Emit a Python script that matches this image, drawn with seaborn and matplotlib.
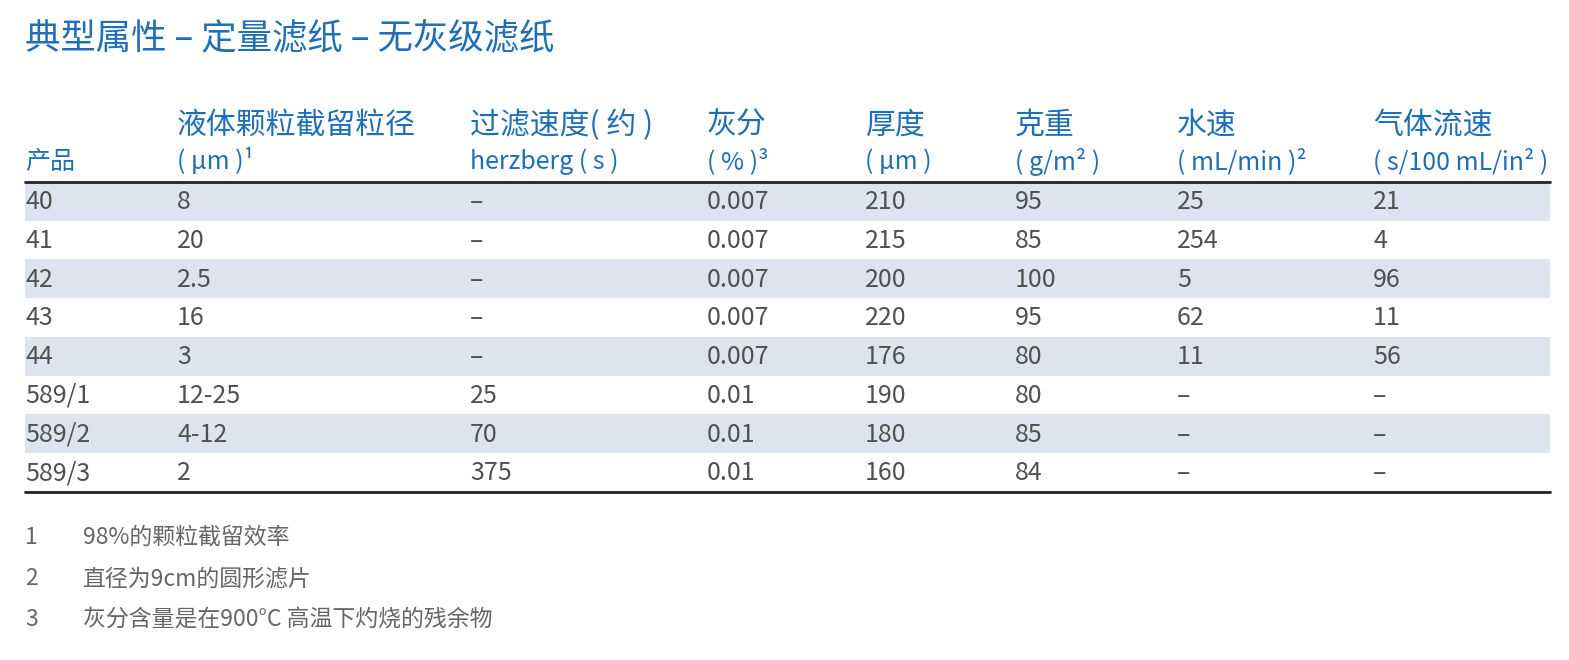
import matplotlib.pyplot as plt
import seaborn as sns

sns.set_theme(style="white")
plt.rcParams['font.family'] = ['Noto Sans CJK SC', 'DejaVu Sans']

title = "典型属性 – 定量滤纸 – 无灰级滤纸"
headers_top = ["", "液体颗粒截留粒径", "过滤速度( 约 )", "灰分", "厚度", "克重", "水速", "气体流速"]
headers_bot = ["产品", "( μm )¹", "herzberg ( s )", "( % )³", "( μm )", "( g/m² )", "( mL/min )²", "( s/100 mL/in² )"]
products = ["40", "41", "42", "43", "44", "589/1", "589/2", "589/3"]
retention = ["8", "20", "2.5", "16", "3", "12-25", "4-12", "2"]
herzberg = ["–", "–", "–", "–", "–", "25", "70", "375"]
ash = ["0.007", "0.007", "0.007", "0.007", "0.007", "0.01", "0.01", "0.01"]
thickness = ["210", "215", "200", "220", "176", "190", "180", "160"]
weight = ["95", "85", "100", "95", "80", "80", "85", "84"]
water = ["25", "254", "5", "62", "11", "–", "–", "–"]
air = ["21", "4", "96", "11", "56", "–", "–", "–"]
footnotes = ["98%的颗粒截留效率", "直径为9cm的圆形滤片", "灰分含量是在900°C 高温下灼烧的残余物"]

columns = [products, retention, herzberg, ash, thickness, weight, water, air]
col_x = [25, 177, 470, 707, 865, 1015, 1177, 1373]
blue = "#1f6fb8"
grey = "#505050"

fig = plt.figure(figsize=(15.69, 6.6), dpi=100)
ax = fig.add_axes([0, 0, 1, 1])
ax.set_xlim(0, 1569)
ax.set_ylim(660, 0)
ax.axis("off")

ax.text(25, 38, title, color=blue, fontsize=25.5, va="center")
for x, t, b in zip(col_x, headers_top, headers_bot):
    ax.text(x, 125, t, color=blue, fontsize=21.5, va="center")
    ax.text(x, 162, b, color=blue, fontsize=18, va="center")

top, row_h = 182, 38.7
for i in range(len(products)):
    y0 = top + i * row_h
    if i % 2 == 0:
        ax.axhspan(y0, y0 + row_h, xmin=25 / 1569, xmax=1550 / 1569, color="#dde3ef", lw=0)
    for x, col in zip(col_x, columns):
        ax.text(x, y0 + row_h / 2 + 1, col[i], color=grey, fontsize=18, va="center")
ax.plot([25, 1550], [top, top], color="#222222", lw=2)
ax.plot([25, 1550], [top + row_h * len(products), top + row_h * len(products)], color="#222222", lw=2)

for i, f in enumerate(footnotes):
    y = 537 + i * 41.5
    ax.text(25, y, str(i + 1), color="#666666", fontsize=16.5, va="center")
    ax.text(83, y, f, color="#666666", fontsize=16.5, va="center")

fig.savefig("out.png", dpi=100, facecolor="white")
